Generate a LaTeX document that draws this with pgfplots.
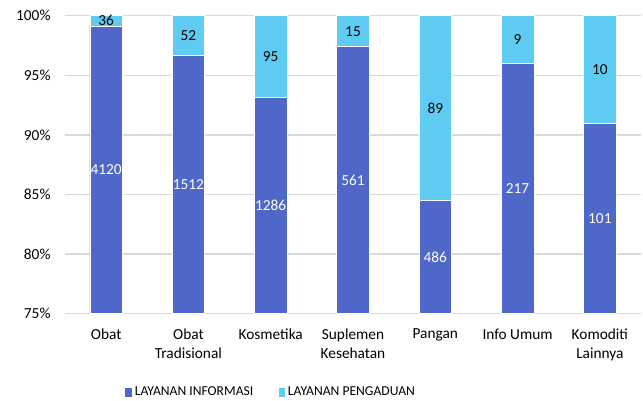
\documentclass[border=0pt]{standalone}
\usepackage{fontspec}
\setmainfont{Carlito}
\usepackage{pgfplots}
\usepackage{pgfplotstable}
\pgfplotsset{compat=1.18}

\definecolor{infoblue}{HTML}{4F67C8}
\definecolor{aduanblue}{HTML}{5DCBF2}
\definecolor{gridgray}{HTML}{D9D9D9}

% share of each service per commodity (%), label heights, counts
\pgfplotstableread{
x pinfo ptotal yinfo yaduan ninfo naduan
0 99.13 100 87.07 99.57 4120 36
1 96.68 100 85.84 98.34 1512 52
2 93.12 100 84.06 96.56 1286 95
3 97.40 100 86.20 98.70 561 15
4 84.52 100 79.76 92.26 486 89
5 96.02 100 85.51 98.01 217 9
6 90.99 100 83.00 95.50 101 10
}\datatable

\begin{document}
\begin{tikzpicture}
\useasboundingbox (-48.75pt,-65.25pt) rectangle (433.5pt,235.3pt);
\begin{axis}[
  scale only axis,
  width=432pt, height=223.5pt,
  xmin=-0.5, xmax=6.5,
  ymin=75, ymax=100,
  xtick={0,...,6},
  xticklabels={Obat, Obat\\Tradisional, Kosmetika, Suplemen\\Kesehatan, Pangan, Info Umum, Komoditi\\Lainnya},
  ytick={75,80,...,100},
  yticklabel={\pgfmathprintnumber{\tick}\%},
  /pgf/number format/assume math mode=true,
  xticklabel style={align=center, anchor=north, inner sep=0pt, yshift=-11pt,
    font=\fontsize{11.5}{14.25}\selectfont},
  yticklabel style={anchor=east, inner sep=0pt, xshift=-10.7pt,
    font=\fontsize{11.5}{14}\selectfont},
  major tick length=0pt,
  axis line style={draw=none},
  ymajorgrids,
  grid style={gridgray, line width=1.1pt},
  legend style={at={(0.3585,-0.262)}, anchor=center, draw=none,
    font=\fontsize{10.2}{12}\selectfont, legend columns=2,
    /tikz/every even column/.append style={column sep=17pt}},
  legend image code/.code={\fill[#1, draw=none] (0pt,-4pt) rectangle (5pt,3pt);},
]
\addplot[ybar, bar width=24.4pt, fill=aduanblue, draw=white, line width=0.5pt, forget plot]
  table[x=x, y=ptotal] {\datatable};
\addplot[ybar, bar width=24.4pt, fill=infoblue, draw=white, line width=0.5pt, forget plot]
  table[x=x, y=pinfo] {\datatable};

\addplot[draw=none, mark=none, forget plot, nodes near coords, point meta=explicit symbolic,
  every node near coord/.style={anchor=center, text=white, font=\fontsize{11.5}{13}\selectfont}]
  table[x=x, y=yinfo, meta=ninfo] {\datatable};
\addplot[draw=none, mark=none, forget plot, nodes near coords, point meta=explicit symbolic,
  every node near coord/.style={anchor=center, text=black, font=\fontsize{11.5}{13}\selectfont}]
  table[x=x, y=yaduan, meta=naduan] {\datatable};

\addlegendimage{fill=infoblue, draw=none}
\addlegendentry{LAYANAN INFORMASI}
\addlegendimage{fill=aduanblue, draw=none}
\addlegendentry{LAYANAN PENGADUAN}
\end{axis}
\end{tikzpicture}
\end{document}
